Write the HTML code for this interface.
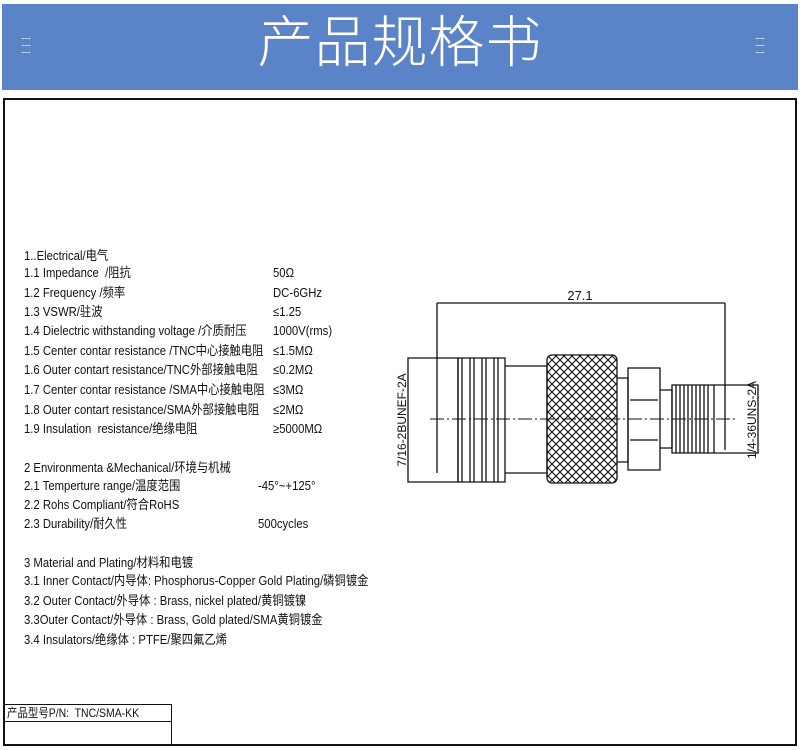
<!DOCTYPE html>
<html><head><meta charset="utf-8"><style>
body{margin:0;width:800px;height:750px;background:#fff;position:relative;overflow:hidden;font-family:"Liberation Sans","Noto Sans CJK SC",sans-serif}
.banner{position:absolute;left:2px;top:4px;width:796px;height:86px;background:#5b84c8}
.title{position:absolute;left:0;width:800px;top:6px;text-align:center;color:#fff;font-size:56px;line-height:74px;letter-spacing:1px;font-weight:300}
.dots{position:absolute;top:33px;color:#fff;font-size:9px;line-height:7px;letter-spacing:-1px}
.frame{position:absolute;left:3px;top:98px;width:790px;height:644px;border:2px solid #111}
.t{position:absolute;left:24px;font-size:13px;color:#111;white-space:nowrap;transform:scaleX(.87);transform-origin:left center;line-height:14px}
.v{left:273px}
</style></head><body>
<div class="banner"></div>
<div class="title">产品规格书</div>
<div class="dots" style="left:21px">......<br>......<br>......</div>
<div class="dots" style="left:755px">......<br>......<br>......</div>
<div class="frame"></div>
<div style="position:absolute;left:3px;top:704px;width:168px;height:40px;border:1.5px solid #111;border-bottom:none;border-left:none"></div>
<div style="position:absolute;left:3px;top:721px;width:169px;border-top:1.5px solid #111"></div>
<div class="t" style="left:7px;top:706px;font-size:12px">产品型号P/N:&nbsp; TNC/SMA-KK</div>

<div class="t" style="top:249px">1..Electrical/电气</div>
<div class="t" style="top:266px">1.1 Impedance&nbsp; /阻抗</div><div class="t v" style="top:266px">50Ω</div>
<div class="t" style="top:286px">1.2 Frequency /频率</div><div class="t v" style="top:286px">DC-6GHz</div>
<div class="t" style="top:305px">1.3 VSWR/驻波</div><div class="t v" style="top:305px">≤1.25</div>
<div class="t" style="top:324px">1.4 Dielectric withstanding voltage /介质耐压</div><div class="t v" style="top:324px">1000V(rms)</div>
<div class="t" style="top:344px">1.5 Center contar resistance /TNC中心接触电阻</div><div class="t v" style="top:344px">≤1.5MΩ</div>
<div class="t" style="top:363px">1.6 Outer contart resistance/TNC外部接触电阻</div><div class="t v" style="top:363px">≤0.2MΩ</div>
<div class="t" style="top:383px">1.7 Center contar resistance /SMA中心接触电阻</div><div class="t v" style="top:383px">≤3MΩ</div>
<div class="t" style="top:403px">1.8 Outer contart resistance/SMA外部接触电阻</div><div class="t v" style="top:403px">≤2MΩ</div>
<div class="t" style="top:422px">1.9 Insulation&nbsp; resistance/绝缘电阻</div><div class="t v" style="top:422px">≥5000MΩ</div>

<div class="t" style="top:461px">2 Environmenta &amp;Mechanical/环境与机械</div>
<div class="t" style="top:479px">2.1 Temperture range/温度范围</div><div class="t v" style="top:479px;left:258px">-45°~+125°</div>
<div class="t" style="top:498px">2.2 Rohs Compliant/符合RoHS</div>
<div class="t" style="top:517px">2.3 Durability/耐久性</div><div class="t v" style="top:517px;left:258px">500cycles</div>

<div class="t" style="top:556px">3 Material and Plating/材料和电镀</div>
<div class="t" style="top:574px">3.1 Inner Contact/内导体: Phosphorus-Copper Gold Plating/磷铜镀金</div>
<div class="t" style="top:594px">3.2 Outer Contact/外导体 : Brass, nickel plated/黄铜镀镍</div>
<div class="t" style="top:613px">3.3Outer Contact/外导体 : Brass, Gold plated/SMA黄铜镀金</div>
<div class="t" style="top:633px">3.4 Insulators/绝缘体 : PTFE/聚四氟乙烯</div>

<svg style="position:absolute;left:0;top:0" width="800" height="750">
<defs>
<pattern id="kn" width="8" height="8" patternUnits="userSpaceOnUse">
<path d="M0 0L8 8M8 0L0 8" stroke="#111" stroke-width="1.1"/>
</pattern>
</defs>
<g fill="none" stroke="#111" stroke-width="1.3">
<path d="M437 303H725M437 303V366M725 303V450"/>
<path d="M408 358H458V482H408Z"/>
<path d="M437 366V473"/>
<path d="M458 358H505V482H458Z"/>
<path d="M462 358V482M470 358V482M474 358V482M482 358V482M486 358V482M494 358V482M498 358V482"/>
<path d="M505 366H547V473H505"/>
<rect x="547" y="355" width="70" height="128" rx="5" fill="url(#kn)"/>
<path d="M617 378H628V462H617"/>
<path d="M628 368H660V470H628Z"/>
<path d="M630 400H658M630 440H658"/>
<path d="M660 390H672V448H660"/>
<path d="M672 385H714V453H672Z"/>
<path d="M676 385V453M680 385V453M684 385V453M688 385V453M692 385V453M696 385V453M700 385V453M704 385V453M708 385V453"/>
<path d="M714 385H758V453H714"/>
</g>
<path d="M430 419H735" stroke="#111" stroke-width="1" stroke-dasharray="14 3 2 3"/>
<text x="580" y="300" font-size="13" text-anchor="middle" font-family="Liberation Sans" fill="#111">27.1</text>
<text transform="translate(406 420) rotate(-90)" font-size="12" text-anchor="middle" font-family="Liberation Sans" fill="#111">7/16-2BUNEF-2A</text>
<text transform="translate(756 420) rotate(-90)" font-size="12" text-anchor="middle" font-family="Liberation Sans" fill="#111">1/4-36UNS-2A</text>
</svg>
</body></html>
